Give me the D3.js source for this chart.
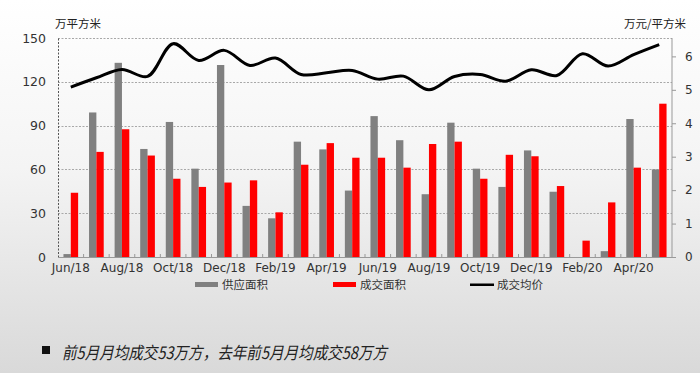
<!DOCTYPE html>
<html><head><meta charset="utf-8">
<script src="https://cdn.jsdelivr.net/npm/d3@7/dist/d3.min.js"></script>
<style>
html,body{margin:0;padding:0;}
body{width:700px;height:373px;overflow:hidden;}
</style></head>
<body><svg id="c" width="700" height="373"></svg>
<script>
const months = ["Jun/18","Jul/18","Aug/18","Sep/18","Oct/18","Nov/18","Dec/18","Jan/19","Feb/19","Mar/19","Apr/19","May/19","Jun/19","Jul/19","Aug/19","Sep/19","Oct/19","Nov/19","Dec/19","Jan/20","Feb/20","Mar/20","Apr/20","May/20"];
const supply = [2,99,133,74,92.5,60.5,131.5,35,26.5,79,73.7,45.5,96.5,80,43,92,60.5,48,73,44.7,0,4,94.5,60];
const deal = [44,72,87.5,69.5,53.6,48,51,52.5,30.6,63.2,78,68,68,61.2,77.4,79,53.6,70,69,48.6,11.2,37.4,61.2,105];
const price = [5.08,5.36,5.61,5.40,6.38,5.88,6.18,5.73,5.95,5.46,5.51,5.58,5.32,5.41,5.0,5.40,5.46,5.26,5.60,5.43,6.08,5.71,6.05,6.35];
const leftTicks = [0,30,60,90,120,150];
const rightTicks = [0,1,2,3,4,5,6];
const xTickLabels = ["Jun/18","Aug/18","Oct/18","Dec/18","Feb/19","Apr/19","Jun/19","Aug/19","Oct/19","Dec/19","Feb/20","Apr/20"];
const legendNames = ["供应面积","成交面积","成交均价"];
const leftTitle = "万平方米", rightTitle = "万元/平方米";
const note = "前5月月均成交53万方，去年前5月月均成交58万方";

const svg = d3.select("#c");
const defs = svg.append("defs");
const g = defs.append("linearGradient").attr("id","bg").attr("x1",0).attr("y1",0).attr("x2",0).attr("y2",1);
g.append("stop").attr("offset","0%").attr("stop-color","#ffffff");
g.append("stop").attr("offset","45%").attr("stop-color","#f4f4f4");
g.append("stop").attr("offset","100%").attr("stop-color","#d9d9d9");
svg.append("rect").attr("width",700).attr("height",373).attr("fill","url(#bg)");

const L=58, R=672, T=38, B=257;
const x = d3.scaleBand().domain(months).range([L,R]);
const yL = d3.scaleLinear().domain([0,150]).range([B,T]);
const yR = d3.scaleLinear().domain([0,6.55]).range([B,T]);
const font = "'DejaVu Sans', sans-serif";
const cjk = "'Noto Sans CJK SC', sans-serif";

// grid
svg.append("g").selectAll("line").data(leftTicks.filter(d=>d>0)).join("line")
  .attr("x1",L).attr("x2",R).attr("y1",d=>Math.round(yL(d))+0.5).attr("y2",d=>Math.round(yL(d))+0.5)
  .attr("stroke","#a8a8a8").attr("stroke-width",1).attr("stroke-dasharray","2,1.5");

// left axis
const la = svg.append("g").attr("transform",`translate(${L},0)`)
  .call(d3.axisLeft(yL).tickValues(leftTicks).tickSize(0).tickPadding(12));
la.select(".domain").attr("stroke","#555").attr("stroke-dasharray","2,1.5");
la.selectAll("text").attr("font-family",font).attr("font-size",12.5).attr("fill","#333");

// right axis
const ra = svg.append("g").attr("transform",`translate(${R},0)`)
  .call(d3.axisRight(yR).tickValues(rightTicks).tickFormat(d3.format("d")).tickSize(4).tickPadding(9));
ra.select(".domain").attr("stroke","#999").attr("d",`M0,${T}V${B}`);
ra.selectAll(".tick line").attr("stroke","#999");
ra.selectAll("text").attr("font-family",font).attr("font-size",12).attr("fill","#333");

// bars
const bw = x.bandwidth()*0.287;
svg.append("g").selectAll("rect").data(months).join("rect")
  .attr("x",d=>x(d)+x.bandwidth()/2-bw).attr("width",bw)
  .attr("y",(d,i)=>yL(supply[i])).attr("height",(d,i)=>B-yL(supply[i]))
  .attr("fill","#808080");
svg.append("g").selectAll("rect").data(months).join("rect")
  .attr("x",d=>x(d)+x.bandwidth()/2).attr("width",bw)
  .attr("y",(d,i)=>yL(deal[i])).attr("height",(d,i)=>B-yL(deal[i]))
  .attr("fill","#ff0000");

// bottom axis
const xa = svg.append("g").attr("transform",`translate(0,${B})`)
  .call(d3.axisBottom(x).tickValues(xTickLabels).tickSize(0).tickPadding(6));
xa.select(".domain").attr("stroke","#999").attr("d",`M${L},0.5H${R}`);
xa.selectAll("text").attr("font-family",font).attr("font-size",12).attr("fill","#333");
svg.append("g").selectAll("line").data(months.slice(1)).join("line")
  .attr("x1",d=>x(d)).attr("x2",d=>x(d)).attr("y1",B-3).attr("y2",B)
  .attr("stroke","#999");

// price line
const line = d3.line().x((d,i)=>x(months[i])+x.bandwidth()/2).y(d=>yR(d)).curve(d3.curveCatmullRom.alpha(0.5));
svg.append("path").datum(price).attr("d",line).attr("fill","none").attr("stroke","#000").attr("stroke-width",3);

// titles
svg.append("text").attr("x",55).attr("y",28).text(leftTitle).attr("font-family",cjk).attr("font-size",11.5).attr("fill","#222");
svg.append("text").attr("x",686).attr("y",28).attr("text-anchor","end").text(rightTitle).attr("font-family",cjk).attr("font-size",11.5).attr("fill","#222");

// legend
const lg = [{x:195,c:"#808080",t:"rect"},{x:333,c:"#ff0000",t:"rect"},{x:470,c:"#000",t:"line"}];
lg.forEach((d,i)=>{
  if(d.t==="rect") svg.append("rect").attr("x",d.x).attr("y",282).attr("width",23).attr("height",5).attr("fill",d.c);
  else svg.append("rect").attr("x",d.x).attr("y",283.5).attr("width",24).attr("height",2.5).attr("fill",d.c);
  svg.append("text").attr("x",d.x+27).attr("y",289).text(legendNames[i]).attr("font-family",cjk).attr("font-size",11.5).attr("fill","#333");
});

// note
svg.append("rect").attr("x",42).attr("y",346).attr("width",8).attr("height",8).attr("fill","#111");
svg.append("text").attr("x",62).attr("y",359).text(note).attr("font-family",cjk).attr("font-size",17).attr("font-style","italic").attr("fill","#222")
  .attr("textLength",325).attr("lengthAdjust","spacingAndGlyphs");
</script></body></html>
